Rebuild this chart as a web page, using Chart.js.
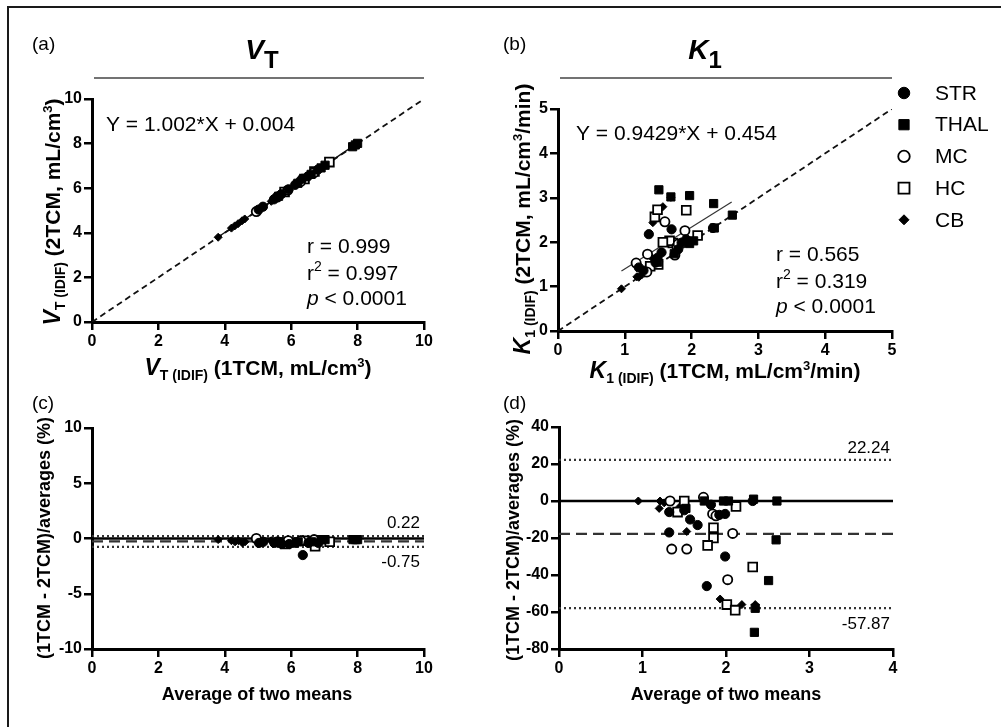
<!DOCTYPE html>
<html lang="en">
<head>
<meta charset="UTF-8">
<title>VT and K1: 1TCM vs 2TCM</title>
<script src="https://cdn.jsdelivr.net/npm/chart.js@4.4.1/dist/chart.umd.min.js"></script>
<style>
  html, body { margin: 0; padding: 0; background: #fff; }
  #fig { position: relative; width: 1001px; height: 727px; overflow: hidden; background: #fff; }
  #frame { position: absolute; left: 7px; top: 6px; width: 1100px; height: 800px; border-top: 2px solid #1a1a1a; border-left: 2px solid #1a1a1a; }
  canvas { position: absolute; }
</style>
</head>
<body>
<div id="fig">
  <div id="frame"></div>
  <canvas id="pa" width="490" height="400" style="left:0;top:0"></canvas>
  <canvas id="pb" width="511" height="400" style="left:490px;top:0"></canvas>
  <canvas id="pc" width="490" height="347" style="left:0;top:380px"></canvas>
  <canvas id="pd" width="511" height="347" style="left:490px;top:380px"></canvas>
</div>
<script>
const regions = ['STR', 'THAL', 'MC', 'HC', 'CB'];

// (a) VT(IDIF): [1TCM, 2TCM]
const aSTR  = [[5.02,5.04],[5.15,5.17],[5.48,5.50],[5.70,5.73],[5.92,5.95],[6.12,6.15],[6.33,6.42],[6.50,6.53],[6.80,6.83]];
const aTHAL = [[5.62,5.64],[6.20,6.22],[6.60,6.62],[6.90,6.91],[7.02,7.03],[7.85,7.86],[7.93,7.94],[8.00,8.01]];
const aMC   = [[4.95,4.95],[5.58,5.60],[5.90,5.91],[6.28,6.29],[6.68,6.69]];
const aHC   = [[5.80,5.83],[6.40,6.41],[6.70,6.75],[7.15,7.17]];
const aCB   = [[3.80,3.80],[4.20,4.21],[4.30,4.31],[4.40,4.41],[4.52,4.54],[4.60,4.62],[5.40,5.41],[5.80,5.81]];
const vtFit = [1.002, 0.004];
const vtFitRange = [3.8, 8.0];
const vtStats = ['0.999', '0.997', '0.0001'];

// (b) K1(IDIF): [1TCM, 2TCM]
const bSTR  = [[1.28,1.36],[1.46,1.54],[1.49,1.65],[1.55,1.77],[1.21,1.43],[1.70,2.29],[1.36,2.18],[2.32,2.32],[1.80,1.84],[1.85,1.99],[1.92,2.06]];
const bTHAL = [[1.74,1.74],[1.97,1.97],[2.61,2.61],[2.33,2.87],[1.97,3.05],[1.69,3.02],[1.51,3.18],[1.49,1.55],[2.03,2.03],[2.34,2.32]];
const bMC   = [[1.17,1.53],[1.34,1.73],[1.90,2.26],[1.60,2.46],[1.78,1.90],[1.80,1.96],[1.75,1.71],[1.33,1.33]];
const bHC   = [[1.50,1.50],[1.38,1.46],[1.72,1.98],[1.67,2.03],[1.57,2.00],[1.92,2.72],[1.45,2.57],[1.49,2.73],[2.09,2.15]];
const bCB   = [[0.95,0.95],[1.21,1.21],[1.25,1.26],[1.30,1.30],[1.18,1.22],[1.40,1.66],[1.42,2.44],[1.57,2.80],[1.69,3.01],[1.43,1.47]];
const k1Fit = [0.9429, 0.454];
const k1FitRange = [0.95, 2.6];
const k1Stats = ['0.565', '0.319', '0.0001'];

// (c) VT Bland-Altman: [average, diff %]
const cSTR  = [[5.03,-0.4],[5.16,-0.3],[5.49,-0.4],[5.72,-0.5],[5.94,-0.5],[6.14,-0.4],[6.35,-1.5],[6.52,-0.4],[6.82,-0.4]];
const cTHAL = [[5.63,-0.3],[6.21,-0.3],[6.61,-0.3],[6.90,-0.1],[7.02,-0.1],[7.86,-0.1],[7.94,-0.1],[8.00,-0.1]];
const cMC   = [[4.95,0.0],[5.59,-0.3],[5.91,-0.2],[6.29,-0.2],[6.69,-0.1]];
const cHC   = [[5.82,-0.5],[6.41,-0.2],[6.72,-0.7],[7.16,-0.3]];
const cCB   = [[3.80,-0.1],[4.20,-0.2],[4.31,-0.3],[4.41,-0.2],[4.53,-0.4],[4.61,-0.3],[5.40,-0.2],[5.81,-0.2]];
const vtLimits = [0.22, -0.75];
const vtBias = -0.265;

// (d) K1 Bland-Altman: [average, diff %]
const dSTR  = [[1.32,-6],[1.50,-5],[1.57,-10],[1.66,-13],[1.32,-17],[1.99,-30],[1.77,-46],[2.32,0],[1.82,-2],[1.92,-7.5],[1.99,-7]];
const dTHAL = [[1.74,0],[1.97,0],[2.61,0],[2.60,-21],[2.51,-43],[2.35,-58],[2.34,-71],[1.52,-4],[2.03,0],[2.33,1]];
const dMC   = [[1.35,-26],[1.53,-26],[2.08,-17.5],[2.02,-42.5],[1.84,-7],[1.88,-8],[1.73,2],[1.33,0]];
const dHC   = [[1.50,0],[1.42,-6],[1.85,-14.5],[1.85,-20],[1.78,-24],[2.32,-35.7],[2.01,-56],[2.11,-59],[2.12,-3]];
const dCB   = [[0.95,0],[1.21,0],[1.26,-1],[1.30,0],[1.20,-4],[1.53,-16.5],[1.93,-53],[2.19,-56],[2.35,-56],[1.45,-3]];
const k1Limits = [22.24, -57.87];
const k1Bias = -17.8;

const FONT = '"Liberation Sans", Arial, Helvetica, sans-serif';

const styles = {
  STR:  { shape: 'circle',  r: 4.6, bg: '#000', bw: 1 },
  THAL: { shape: 'rect',    r: 5.8, bg: '#000', bw: 1 },
  MC:   { shape: 'circle',  r: 4.6, bg: '#fff', bw: 1.8 },
  HC:   { shape: 'rect',    r: 6.2, bg: '#fff', bw: 1.8 },
  CB:   { shape: 'rectRot', r: 4,   bg: '#000', bw: 1 }
};

function markerSets(groups) {
  return regions.map((name, i) => ({
    label: name,
    data: groups[i].map(p => ({ x: p[0], y: p[1] })),
    showLine: false,
    pointStyle: styles[name].shape,
    pointRadius: styles[name].r,
    pointBackgroundColor: styles[name].bg,
    pointBorderColor: '#000',
    pointBorderWidth: styles[name].bw,
    order: 1
  }));
}

function lineSet(points, width, dash, color) {
  return {
    label: '',
    data: points,
    showLine: true,
    pointRadius: 0,
    borderColor: color,
    borderWidth: width,
    borderDash: dash,
    fill: false,
    order: 5
  };
}

function fitLine(fit, range) {
  return range.map(x => ({ x: x, y: fit[0] * x + fit[1] }));
}

function hLine(v, x0, x1) {
  return [{ x: x0, y: v }, { x: x1, y: v }];
}

function axis(min, max, step, fixed, isX) {
  return {
    type: 'linear',
    min: min,
    max: max,
    afterFit: s => { if (isX) s.height = fixed; else s.width = fixed; },
    border: { display: true, color: '#000', width: 3 },
    grid: { drawOnChartArea: false, drawTicks: true, tickLength: 8, color: '#000', lineWidth: 2.5 },
    ticks: { stepSize: step, padding: 2, color: '#000', autoSkip: false, maxRotation: 0,
             font: { family: FONT, size: 16, weight: 'bold' } }
  };
}

// rich text: runs of {t, s, b, i, dy}
function fnt(p) {
  return (p.i ? 'italic ' : '') + (p.b ? 'bold ' : '') + p.s + 'px ' + FONT;
}
function rich(ctx, parts, x, y, align, rot) {
  ctx.save();
  ctx.translate(x, y);
  if (rot) ctx.rotate(-Math.PI / 2);
  ctx.textBaseline = 'alphabetic';
  ctx.textAlign = 'left';
  ctx.fillStyle = '#000';
  let w = 0;
  parts.forEach(p => { ctx.font = fnt(p); w += ctx.measureText(p.t).width; });
  let cx = align === 'center' ? -w / 2 : (align === 'right' ? -w : 0);
  parts.forEach(p => {
    ctx.font = fnt(p);
    ctx.fillText(p.t, cx, p.dy || 0);
    cx += ctx.measureText(p.t).width;
  });
  ctx.restore();
}

function drawMark(ctx, st, x, y, k) {
  const r = st.r * k;
  ctx.save();
  ctx.fillStyle = st.bg;
  ctx.strokeStyle = '#000';
  ctx.lineWidth = st.bw;
  ctx.beginPath();
  if (st.shape === 'circle') {
    ctx.arc(x, y, r, 0, Math.PI * 2);
  } else if (st.shape === 'rect') {
    const h = r * Math.SQRT1_2;
    ctx.rect(x - h, y - h, 2 * h, 2 * h);
  } else {
    ctx.moveTo(x - r, y); ctx.lineTo(x, y - r); ctx.lineTo(x + r, y); ctx.lineTo(x, y + r); ctx.closePath();
  }
  ctx.fill();
  ctx.stroke();
  ctx.restore();
}

function textPlugin(cfg) {
  return {
    id: 'panelText',
    afterDraw(chart) {
      const ctx = chart.ctx;
      const area = chart.chartArea;
      if (cfg.rule) {
        ctx.save();
        ctx.strokeStyle = '#444';
        ctx.lineWidth = 1.6;
        ctx.beginPath();
        ctx.moveTo(area.left + 2, cfg.rule);
        ctx.lineTo(area.right, cfg.rule);
        ctx.stroke();
        ctx.restore();
      }
      cfg.items.forEach(it => rich(ctx, it.parts, it.x, it.y, it.align, it.rot));
      if (cfg.legend) {
        const lg = cfg.legend;
        chart.data.datasets.filter(d => regions.includes(d.label)).forEach((d, i) => {
          const y = lg.y + i * lg.gap;
          drawMark(ctx, styles[d.label], lg.x, y, 1.25);
          ctx.save();
          ctx.font = '21px ' + FONT;
          ctx.fillStyle = '#000';
          ctx.textBaseline = 'middle';
          ctx.fillText(d.label, lg.x + 31, y + 1);
          ctx.restore();
        });
      }
    }
  };
}

function axisTitle(sym, sub, body, tail) {
  return [
    { t: sym, s: 23, b: 1, i: 1 },
    { t: sub, s: 14, b: 1, dy: 5 },
    { t: body, s: 21, b: 1 },
    { t: '3', s: 13, b: 1, dy: -8 },
    { t: tail, s: 21, b: 1 }
  ];
}

function statsItems(x, y0, y1, y2, st) {
  return [
    { x: x, y: y0, parts: [{ t: 'r = ' + st[0], s: 21 }] },
    { x: x, y: y1, parts: [{ t: 'r', s: 21 }, { t: '2', s: 14, dy: -9 }, { t: ' = ' + st[1], s: 21 }] },
    { x: x, y: y2, parts: [{ t: 'p', s: 21, i: 1 }, { t: ' < ' + st[2], s: 21 }] }
  ];
}

function makeChart(id, datasets, xAx, yAx, pad, cfg) {
  return new Chart(document.getElementById(id), {
    type: 'scatter',
    data: { datasets: datasets },
    options: {
      responsive: false,
      animation: false,
      devicePixelRatio: 1,
      events: [],
      layout: { padding: pad },
      plugins: { legend: { display: false }, tooltip: { enabled: false } },
      scales: { x: xAx, y: yAx }
    },
    plugins: [textPlugin(cfg)]
  });
}

// (a)
makeChart('pa',
  markerSets([aSTR, aTHAL, aMC, aHC, aCB]).concat([
    lineSet(fitLine(vtFit, vtFitRange), 1.4, [], '#111'),
    lineSet([{ x: 0, y: 0 }, { x: 10, y: 10 }], 1.8, [6, 4], '#111')
  ]),
  axis(0, 10, 2, 78, true), axis(0, 10, 2, 92, false),
  { left: 0, top: 99, right: 66, bottom: 0 },
  {
    rule: 78,
    items: [
      { x: 32, y: 50, parts: [{ t: '(a)', s: 19 }] },
      { x: 262, y: 59, align: 'center', parts: [{ t: 'V', s: 28, b: 1, i: 1 }, { t: 'T', s: 24, b: 1, dy: 9 }] },
      { x: 106, y: 131, parts: [{ t: 'Y = ' + vtFit[0] + '*X + ' + vtFit[1], s: 21 }] },
      { x: 258, y: 375, align: 'center', parts: axisTitle('V', 'T (IDIF)', ' (1TCM, mL/cm', ')') },
      { x: 60, y: 212, align: 'center', rot: true, parts: axisTitle('V', 'T (IDIF)', ' (2TCM, mL/cm', ')') }
    ].concat(statsItems(307, 253, 280, 305, vtStats))
  });

// (b)
makeChart('pb',
  markerSets([bSTR, bTHAL, bMC, bHC, bCB]).concat([
    lineSet(fitLine(k1Fit, k1FitRange), 1.2, [], '#333'),
    lineSet([{ x: 0, y: 0 }, { x: 5, y: 5 }], 1.8, [6, 4], '#111')
  ]),
  axis(0, 5, 1, 69, true), axis(0, 5, 1, 68, false),
  { left: 0, top: 109, right: 109, bottom: 0 },
  {
    rule: 78,
    legend: { x: 414, y: 93, gap: 31.7 },
    items: [
      { x: 13, y: 50, parts: [{ t: '(b)', s: 19 }] },
      { x: 215, y: 59, align: 'center', parts: [{ t: 'K', s: 28, b: 1, i: 1 }, { t: '1', s: 24, b: 1, dy: 9 }] },
      { x: 86, y: 140, parts: [{ t: 'Y = ' + k1Fit[0] + '*X + ' + k1Fit[1], s: 21 }] },
      { x: 235, y: 378, align: 'center', parts: axisTitle('K', '1 (IDIF)', ' (1TCM, mL/cm', '/min)') },
      { x: 40, y: 219, align: 'center', rot: true, parts: axisTitle('K', '1 (IDIF)', ' (2TCM, mL/cm', '/min)') }
    ].concat(statsItems(286, 261, 288, 313, k1Stats))
  });

// (c)
makeChart('pc',
  markerSets([cSTR, cTHAL, cMC, cHC, cCB]).concat([
    lineSet(hLine(0, 0, 10), 2.5, [], '#000'),
    lineSet(hLine(vtBias, 0, 10), 2.2, [11, 6], '#333'),
    lineSet(hLine(vtLimits[0], 0, 10), 2.2, [2, 3], '#333'),
    lineSet(hLine(vtLimits[1], 0, 10), 2.2, [2, 3], '#333')
  ]),
  axis(0, 10, 2, 78, true), axis(-10, 10, 5, 92, false),
  { left: 0, top: 48, right: 66, bottom: 0 },
  {
    items: [
      { x: 32, y: 29, parts: [{ t: '(c)', s: 19 }] },
      { x: 420, y: 148, align: 'right', parts: [{ t: vtLimits[0].toFixed(2), s: 17 }] },
      { x: 420, y: 187, align: 'right', parts: [{ t: vtLimits[1].toFixed(2), s: 17 }] },
      { x: 257, y: 320, align: 'center', parts: [{ t: 'Average of two means', s: 18, b: 1 }] },
      { x: 50, y: 158, align: 'center', rot: true, parts: [{ t: '(1TCM - 2TCM)/averages (%)', s: 18, b: 1 }] }
    ]
  });

// (d)
makeChart('pd',
  markerSets([dSTR, dTHAL, dMC, dHC, dCB]).concat([
    lineSet(hLine(0, 0, 4), 2.5, [], '#000'),
    lineSet(hLine(k1Bias, 0, 4), 2.2, [11, 6], '#333'),
    lineSet(hLine(k1Limits[0], 0, 4), 2.2, [2, 3], '#333'),
    lineSet(hLine(k1Limits[1], 0, 4), 2.2, [2, 3], '#333')
  ]),
  axis(0, 4, 1, 78, true), axis(-80, 40, 20, 69, false),
  { left: 0, top: 47, right: 108, bottom: 0 },
  {
    items: [
      { x: 13, y: 29, parts: [{ t: '(d)', s: 19 }] },
      { x: 400, y: 73, align: 'right', parts: [{ t: k1Limits[0].toFixed(2), s: 17 }] },
      { x: 400, y: 249, align: 'right', parts: [{ t: k1Limits[1].toFixed(2), s: 17 }] },
      { x: 236, y: 320, align: 'center', parts: [{ t: 'Average of two means', s: 18, b: 1 }] },
      { x: 29, y: 160, align: 'center', rot: true, parts: [{ t: '(1TCM - 2TCM)/averages (%)', s: 18, b: 1 }] }
    ]
  });
</script>
</body>
</html>
